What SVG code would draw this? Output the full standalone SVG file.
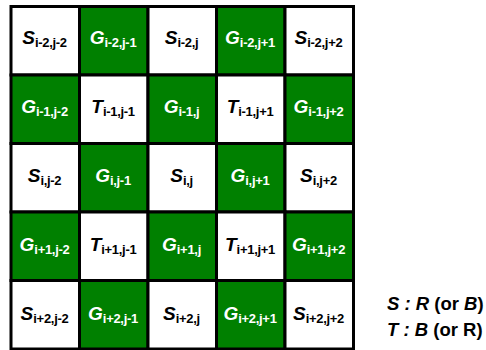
<svg xmlns="http://www.w3.org/2000/svg" width="486" height="350" viewBox="0 0 486 350">
<style>
.c{stroke:#000;stroke-width:3}
.w{fill:#fff}
.g{fill:#008000}
.t{font-family:"Liberation Sans",Arial,sans-serif;font-weight:bold;text-anchor:middle;font-size:19px}
.m{font-style:italic}
.s{font-size:13px;font-style:normal;letter-spacing:-0.3px}
.tw{fill:#000}
.tg{fill:#fff}
.lg{font-family:"Liberation Sans",Arial,sans-serif;font-weight:bold;font-size:18.5px;fill:#000}
</style>
<rect width="486" height="350" fill="#fff"/>
<g id="cells">
<g id="S_i-2_j-2"><rect class="c w" x="11" y="6.5" width="68.5" height="68.5"/><text class="t tw" x="44.5" y="44"><tspan class="m">S</tspan><tspan class="s" dy="3">i-2,j-2</tspan></text></g>
<g id="G_i-2_j-1"><rect class="c g" x="79.5" y="6.5" width="68.5" height="68.5"/><text class="t tg" x="113" y="44"><tspan class="m">G</tspan><tspan class="s" dy="3">i-2,j-1</tspan></text></g>
<g id="S_i-2_j"><rect class="c w" x="148" y="6.5" width="68.5" height="68.5"/><text class="t tw" x="181.5" y="44"><tspan class="m">S</tspan><tspan class="s" dy="3">i-2,j</tspan></text></g>
<g id="G_i-2_j+1"><rect class="c g" x="216.5" y="6.5" width="68.5" height="68.5"/><text class="t tg" x="250" y="44"><tspan class="m">G</tspan><tspan class="s" dy="3">i-2,j+1</tspan></text></g>
<g id="S_i-2_j+2"><rect class="c w" x="285" y="6.5" width="68.5" height="68.5"/><text class="t tw" x="318.5" y="44"><tspan class="m">S</tspan><tspan class="s" dy="3">i-2,j+2</tspan></text></g>

<g id="G_i-1_j-2"><rect class="c g" x="11" y="75" width="68.5" height="68.5"/><text class="t tg" x="44.5" y="113"><tspan class="m">G</tspan><tspan class="s" dy="3">i-1,j-2</tspan></text></g>
<g id="T_i-1_j-1"><rect class="c w" x="79.5" y="75" width="68.5" height="68.5"/><text class="t tw" x="113" y="113"><tspan class="m">T</tspan><tspan class="s" dy="3">i-1,j-1</tspan></text></g>
<g id="G_i-1_j"><rect class="c g" x="148" y="75" width="68.5" height="68.5"/><text class="t tg" x="181.5" y="113"><tspan class="m">G</tspan><tspan class="s" dy="3">i-1,j</tspan></text></g>
<g id="T_i-1_j+1"><rect class="c w" x="216.5" y="75" width="68.5" height="68.5"/><text class="t tw" x="250" y="113"><tspan class="m">T</tspan><tspan class="s" dy="3">i-1,j+1</tspan></text></g>
<g id="G_i-1_j+2"><rect class="c g" x="285" y="75" width="68.5" height="68.5"/><text class="t tg" x="318.5" y="113"><tspan class="m">G</tspan><tspan class="s" dy="3">i-1,j+2</tspan></text></g>

<g id="S_i_j-2"><rect class="c w" x="11" y="143.5" width="68.5" height="68.5"/><text class="t tw" x="44.5" y="182"><tspan class="m">S</tspan><tspan class="s" dy="3">i,j-2</tspan></text></g>
<g id="G_i_j-1"><rect class="c g" x="79.5" y="143.5" width="68.5" height="68.5"/><text class="t tg" x="113" y="182"><tspan class="m">G</tspan><tspan class="s" dy="3">i,j-1</tspan></text></g>
<g id="S_i_j"><rect class="c w" x="148" y="143.5" width="68.5" height="68.5"/><text class="t tw" x="181.5" y="182"><tspan class="m">S</tspan><tspan class="s" dy="3">i,j</tspan></text></g>
<g id="G_i_j+1"><rect class="c g" x="216.5" y="143.5" width="68.5" height="68.5"/><text class="t tg" x="250" y="182"><tspan class="m">G</tspan><tspan class="s" dy="3">i,j+1</tspan></text></g>
<g id="S_i_j+2"><rect class="c w" x="285" y="143.5" width="68.5" height="68.5"/><text class="t tw" x="318.5" y="182"><tspan class="m">S</tspan><tspan class="s" dy="3">i,j+2</tspan></text></g>

<g id="G_i+1_j-2"><rect class="c g" x="11" y="212" width="68.5" height="68.5"/><text class="t tg" x="44.5" y="251"><tspan class="m">G</tspan><tspan class="s" dy="3">i+1,j-2</tspan></text></g>
<g id="T_i+1_j-1"><rect class="c w" x="79.5" y="212" width="68.5" height="68.5"/><text class="t tw" x="113" y="251"><tspan class="m">T</tspan><tspan class="s" dy="3">i+1,j-1</tspan></text></g>
<g id="G_i+1_j"><rect class="c g" x="148" y="212" width="68.5" height="68.5"/><text class="t tg" x="181.5" y="251"><tspan class="m">G</tspan><tspan class="s" dy="3">i+1,j</tspan></text></g>
<g id="T_i+1_j+1"><rect class="c w" x="216.5" y="212" width="68.5" height="68.5"/><text class="t tw" x="250" y="251"><tspan class="m">T</tspan><tspan class="s" dy="3">i+1,j+1</tspan></text></g>
<g id="G_i+1_j+2"><rect class="c g" x="285" y="212" width="68.5" height="68.5"/><text class="t tg" x="318.5" y="251"><tspan class="m">G</tspan><tspan class="s" dy="3">i+1,j+2</tspan></text></g>

<g id="S_i+2_j-2"><rect class="c w" x="11" y="280.5" width="68.5" height="68.5"/><text class="t tw" x="44.5" y="320"><tspan class="m">S</tspan><tspan class="s" dy="3">i+2,j-2</tspan></text></g>
<g id="G_i+2_j-1"><rect class="c g" x="79.5" y="280.5" width="68.5" height="68.5"/><text class="t tg" x="113" y="320"><tspan class="m">G</tspan><tspan class="s" dy="3">i+2,j-1</tspan></text></g>
<g id="S_i+2_j"><rect class="c w" x="148" y="280.5" width="68.5" height="68.5"/><text class="t tw" x="181.5" y="320"><tspan class="m">S</tspan><tspan class="s" dy="3">i+2,j</tspan></text></g>
<g id="G_i+2_j+1"><rect class="c g" x="216.5" y="280.5" width="68.5" height="68.5"/><text class="t tg" x="250" y="320"><tspan class="m">G</tspan><tspan class="s" dy="3">i+2,j+1</tspan></text></g>
<g id="S_i+2_j+2"><rect class="c w" x="285" y="280.5" width="68.5" height="68.5"/><text class="t tw" x="318.5" y="320"><tspan class="m">S</tspan><tspan class="s" dy="3">i+2,j+2</tspan></text></g>
</g>
<g id="legend">
<text class="lg" x="387" y="310"><tspan class="m">S : R</tspan> (or <tspan class="m">B</tspan>)</text>
<text class="lg" x="387" y="336"><tspan class="m">T : B</tspan> (or R)</text>
</g>
<g id="connectors"></g>
</svg>
